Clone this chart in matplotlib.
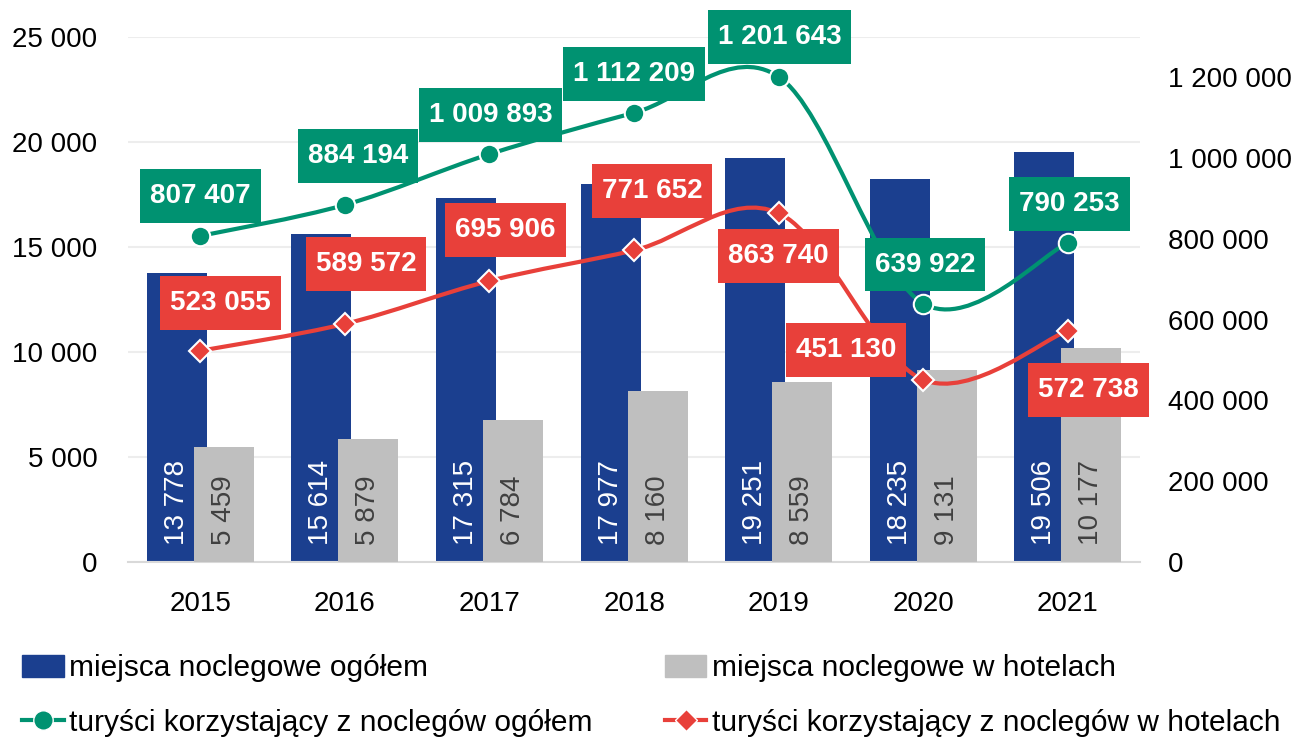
import numpy as np
import matplotlib
matplotlib.use("Agg")
import matplotlib.pyplot as plt
from matplotlib.path import Path
from matplotlib.patches import PathPatch, Patch
from matplotlib.lines import Line2D

plt.rcParams['font.family'] = ['Liberation Sans', 'DejaVu Sans']

years = ['2015', '2016', '2017', '2018', '2019', '2020', '2021']
beds_total = [13778, 15614, 17315, 17977, 19251, 18235, 19506]
beds_hotels = [5459, 5879, 6784, 8160, 8559, 9131, 10177]
tourists_total = [807407, 884194, 1009893, 1112209, 1201643, 639922, 790253]
tourists_hotels = [523055, 589572, 695906, 771652, 863740, 451130, 572738]

# label offsets in pixels (manual placement like in the original)
off_total = [(0, 40), (13, 49), (1, 39), (0, 39), (1, 40), (2, 39), (2, 39)]
off_hotels = [(20, 48), (21, 60), (16, 51), (18, 59), (0, -43), (-77, 30), (21, -59)]

BLUE = '#1B3F8F'
GRAY = '#BFBFBF'
GREEN = '#009271'
RED = '#E8403A'


def fmt(v):
    return f'{v:,}'.replace(',', ' ')


def smooth_path(xs, ys):
    # catmull-rom -> bezier, like excel "smoothed line"
    P = np.column_stack([xs, ys]).astype(float)
    n = len(P)
    verts = [P[0]]
    codes = [Path.MOVETO]
    for i in range(n - 1):
        p0 = P[i - 1] if i > 0 else P[i]
        p1 = P[i]
        p2 = P[i + 1]
        p3 = P[i + 2] if i + 2 < n else P[i + 1]
        verts += [p1 + (p2 - p0) / 6, p2 - (p3 - p1) / 6, p2]
        codes += [Path.CURVE4] * 3
    return Path(verts, codes)


def label_box(x0, y0, width, height, mutation_size):
    px = 0.36 * mutation_size
    py = 0.5 * mutation_size
    return Path([(x0 - px, y0 - py), (x0 + width + px, y0 - py),
                 (x0 + width + px, y0 + height + py), (x0 - px, y0 + height + py),
                 (x0 - px, y0 - py)], closed=True)


fig = plt.figure(figsize=(13, 7.47), dpi=100)
ax = fig.add_axes([0.0985, 0.2477, 0.7785, 0.7028])
ax2 = ax.twinx()

x = np.arange(len(years))
w = 0.415
d = 0.163
ax.bar(x - d, beds_total, w, color=BLUE, zorder=2)
ax.bar(x + d, beds_hotels, w, color=GRAY, zorder=3)

for i in range(len(years)):
    ax.annotate(fmt(beds_total[i]), (x[i] - d, 0), xytext=(0, 17), textcoords='offset pixels',
                rotation=90, ha='center', va='bottom', fontsize=20, color='white', zorder=4)
    ax.annotate(fmt(beds_hotels[i]), (x[i] + d, 0), xytext=(0, 17), textcoords='offset pixels',
                rotation=90, ha='center', va='bottom', fontsize=20, color='#404040', zorder=4)

ax.set_xlim(-0.5, 6.5)
ax.set_ylim(0, 25000)
ax.set_yticks(range(0, 25001, 5000))
ax.set_yticklabels([fmt(v) for v in range(0, 25001, 5000)])
ax.set_xticks(x)
ax.set_xticklabels(years)
ax.yaxis.grid(True, color='#EDEDED', linewidth=1.5)
ax.set_axisbelow(True)
for s in ['top', 'left', 'right']:
    ax.spines[s].set_visible(False)
ax.spines['bottom'].set_color('#D9D9D9')
ax.spines['bottom'].set_linewidth(1.5)
ax.tick_params(axis='both', length=0, labelsize=20)
ax.tick_params(axis='y', pad=22)
ax.tick_params(axis='x', pad=21)

ax2.set_ylim(0, 1300000)
ax2.set_yticks(range(0, 1200001, 200000))
ax2.set_yticklabels([fmt(v) for v in range(0, 1200001, 200000)])
ax2.tick_params(axis='y', length=0, labelsize=20, pad=20)
for s in ax2.spines.values():
    s.set_visible(False)

for vals, col, mk, ms, offs in [(tourists_total, GREEN, 'o', 14, off_total),
                                (tourists_hotels, RED, 'D', 11, off_hotels)]:
    ax2.add_patch(PathPatch(smooth_path(x, vals), fill=False, edgecolor=col, linewidth=3, zorder=5))
    ax2.plot(x, vals, linestyle='none', marker=mk, markersize=ms, markerfacecolor=col,
             markeredgecolor='white', markeredgewidth=1.5, zorder=6)
    for i, v in enumerate(vals):
        ax2.annotate(fmt(v), (x[i], v), xytext=offs[i], textcoords='offset pixels',
                     ha='center', va='center', fontsize=20, fontweight='bold', color='white',
                     zorder=7, bbox=dict(boxstyle=label_box, facecolor=col, edgecolor='none'))

handles = [Patch(color=BLUE),
           Line2D([], [], color=GREEN, linewidth=3, marker='o', markersize=14,
                  markerfacecolor=GREEN, markeredgecolor='white'),
           Patch(color=GRAY),
           Line2D([], [], color=RED, linewidth=3, marker='D', markersize=11,
                  markerfacecolor=RED, markeredgecolor='white')]
labels = ['miejsca noclegowe ogółem',
          'turyści korzystający z noclegów ogółem',
          'miejsca noclegowe w hotelach',
          'turyści korzystający z noclegów w hotelach']
fig.legend(handles, labels, loc='upper left', bbox_to_anchor=(0.008, 0.14), ncol=2,
           frameon=False, fontsize=21.5, handlelength=1.38, handleheight=0.8, handletextpad=0.17,
           columnspacing=2.45, labelspacing=0.9, borderaxespad=0)

fig.savefig('out.png', dpi=100)
